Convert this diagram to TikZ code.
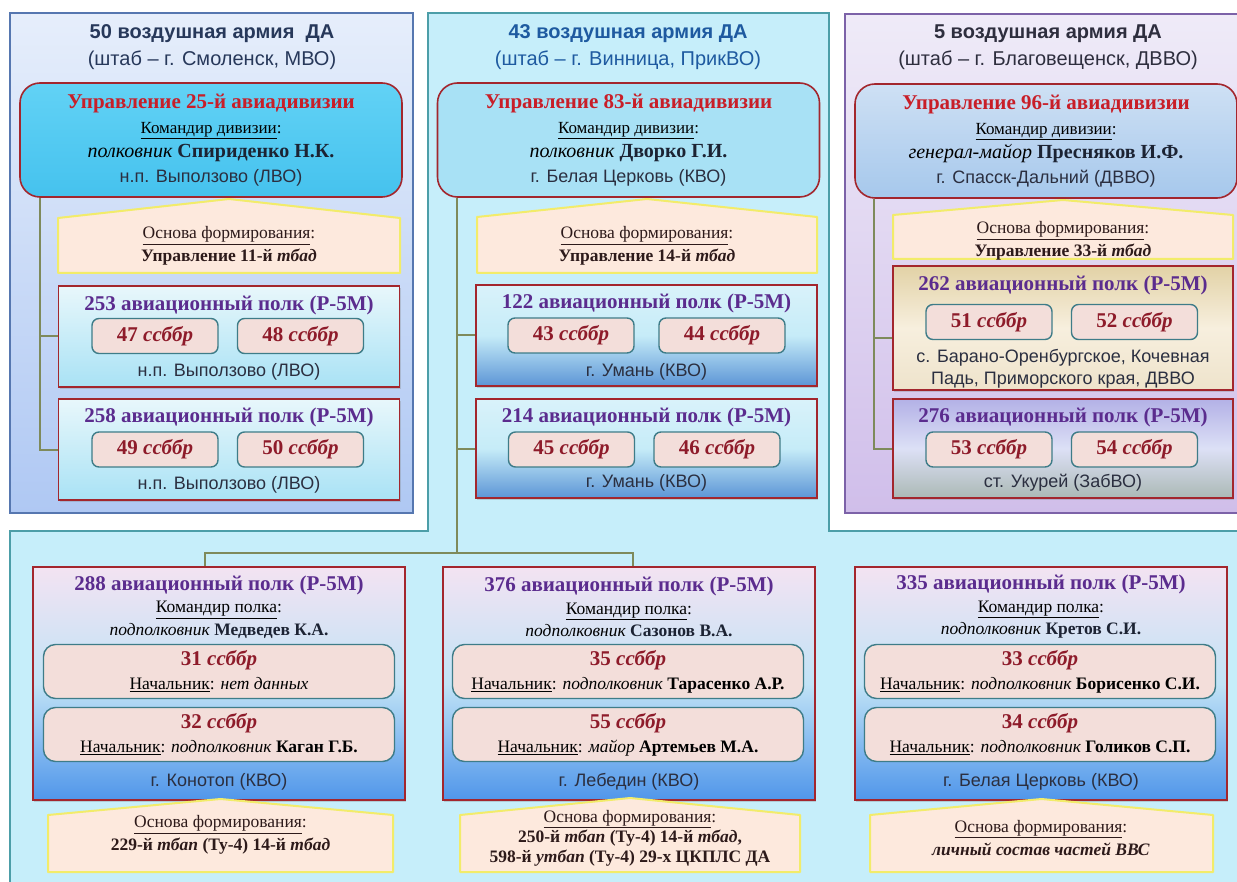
\documentclass[tikz,border=0pt]{standalone}
\usepackage{fontspec}
\setmainfont{Liberation Serif}
\newfontfamily\arialf{Liberation Sans}
\usetikzlibrary{shadows}

\definecolor{redline}{HTML}{A3262D}
\definecolor{headred}{HTML}{C81E28}
\definecolor{regpurple}{HTML}{5B2C8E}
\definecolor{ssbred}{HTML}{8E1B2A}
\definecolor{ssbfill}{HTML}{F3DEDA}
\definecolor{ssbline}{HTML}{3E7C88}
\definecolor{linkolive}{HTML}{7E8A5B}
\definecolor{basfill}{HTML}{FDE9DD}
\definecolor{basline}{HTML}{F2EC6A}
\definecolor{bastext}{HTML}{2D1A1A}
\definecolor{cyanbg}{HTML}{C6EEFA}
\definecolor{tealline}{HTML}{4C9EA8}
\definecolor{blueline}{HTML}{5677B0}
\definecolor{violetline}{HTML}{7C62A8}
\definecolor{army50top}{HTML}{E6EEFB}
\definecolor{army50bot}{HTML}{AFC8F3}
\definecolor{army5top}{HTML}{EFEBF8}
\definecolor{army5bot}{HTML}{D0BEEA}
\definecolor{title50}{HTML}{27385A}
\definecolor{title43}{HTML}{1E5AA0}
\definecolor{title5}{HTML}{2E2E3E}
\definecolor{namecol}{HTML}{1C2333}
\definecolor{placecol}{HTML}{2B2F40}
\definecolor{div25top}{HTML}{62D2F5}
\definecolor{div25bot}{HTML}{45C2EE}
\definecolor{div83fill}{HTML}{A8E1F5}
\definecolor{div96top}{HTML}{CEE0F4}
\definecolor{div96bot}{HTML}{A6C8EC}
\definecolor{cyantop}{HTML}{E8F7FB}
\definecolor{cyanbot}{HTML}{A9E2F5}
\definecolor{bluetop}{HTML}{D9F2FA}
\definecolor{bluemid}{HTML}{C6ECF8}
\definecolor{bluebot}{HTML}{5C95D6}
\definecolor{tantop}{HTML}{E2D2A6}
\definecolor{tanmid}{HTML}{F7EFDE}
\definecolor{tanbot}{HTML}{EEE3CB}
\definecolor{lilactop}{HTML}{B3B1E6}
\definecolor{lilacmid}{HTML}{DCE0F6}
\definecolor{lilacbot}{HTML}{ABB9B5}
\definecolor{pinktop}{HTML}{F3E3F2}
\definecolor{pinkmid}{HTML}{C1E3F6}
\definecolor{pinkbot}{HTML}{5096EA}

\newcommand{\divhead}[1]{{\color{headred}\bfseries\fontsize{21}{24.5}\selectfont #1}}
\newcommand{\nameline}[2]{{\fontsize{20}{24.5}\selectfont\textit{#1} {\bfseries\color{namecol}#2}}}
\newcommand{\placetext}[1]{{\arialf\fontsize{18}{24.5}\selectfont\color{placecol}#1}}
\newcommand{\ssbhead}[2]{{\color{ssbred}\bfseries\fontsize{21}{24}\selectfont #1 \textit{#2}}}
\newcommand{\basisshape}[5]{\draw[basis] (#1,#5) -- (#1,#4) -- ({(#1+#2)/2},#3) -- (#2,#4) -- (#2,#5) -- cycle;}

\tikzset{
  army/.style={align=center, inner sep=0pt, font=\arialf\fontsize{20}{27}\selectfont},
  divbox/.style={draw=redline, line width=1.6pt, rounded corners=20pt, minimum width=382pt,
    minimum height=114pt, inner sep=0pt, align=center, font=\fontsize{17}{24.5}\selectfont},
  basis/.style={draw=basline, fill=basfill, line width=2pt, line join=round},
  bastext/.style={align=center, inner sep=0pt, text=bastext, font=\fontsize{17.5}{23}\selectfont},
  polk/.style={draw=redline, line width=1.6pt, minimum width=341pt, minimum height=101pt,
    inner sep=0pt, drop shadow={opacity=0.3, shadow xshift=1pt, shadow yshift=-2pt}},
  cyanpolk/.style={top color=cyantop, bottom color=cyanbot},
  bluepolk/.style={top color=bluetop, bottom color=bluebot, middle color=bluemid},
  tanpolk/.style={top color=tantop, bottom color=tanbot, middle color=tanmid},
  lilacpolk/.style={top color=lilactop, bottom color=lilacbot, middle color=lilacmid},
  pinkpolk/.style={top color=pinktop, bottom color=pinkbot, middle color=pinkmid},
  polktitle/.style={inner sep=0pt, text=regpurple, font=\bfseries\fontsize{21}{24}\selectfont},
  polkhead/.style={align=center, inner sep=0pt, font=\fontsize{17.5}{22.5}\selectfont},
  ssb/.style={draw=ssbline, fill=ssbfill, line width=1.4pt, rounded corners=7pt, minimum width=126pt,
    minimum height=35pt, inner sep=0pt, text=ssbred, font=\bfseries\fontsize{21}{24}\selectfont},
  chief/.style={draw=ssbline, fill=ssbfill, line width=1.4pt, rounded corners=12pt, minimum width=351pt,
    minimum height=54pt, inner sep=0pt, align=center, font=\fontsize{17.5}{24}\selectfont},
  place/.style={inner sep=0pt, align=center, text=placecol, font=\arialf\fontsize{18}{22}\selectfont},
  link/.style={draw=linkolive, line width=2pt}
}

\begin{document}
\begin{tikzpicture}[x=1pt,y=-1pt]
  \useasboundingbox (0,0) rectangle (1237,882);
  \clip (0,0) rectangle (1237,882);
  % armies
  \path[draw=tealline, line width=1.5pt, fill=cyanbg] (428,13) -- (829,13) -- (829,531) -- (1250,531)
    -- (1250,900) -- (10,900) -- (10,531) -- (428,531) -- cycle;
  \path[draw=blueline, line width=1.5pt, top color=army50top, bottom color=army50bot] (10,13) rectangle (413,513);
  \path[draw=violetline, line width=1.5pt, top color=army5top, bottom color=army5bot] (845,14) rectangle (1250,513);
  \node[army, text=title50] (a50) at (212,47) {\textbf{50 воздушная армия\ \ ДА}\\(штаб – г. Смоленск, МВО)};
  \node[army, text=title43] (a43) at (628,47) {\textbf{43 воздушная армия ДА}\\(штаб – г. Винница, ПрикВО)};
  \node[army, text=title5] (a5) at (1048,47) {\textbf{5 воздушная армия ДА}\\(штаб – г. Благовещенск, ДВВО)};

  % divisions
  \node[divbox, top color=div25top, bottom color=div25bot] (div25) at (211,140)
    {\divhead{Управление 25-й авиадивизии}\\ \underline{Командир дивизии}:\\
     \nameline{полковник}{Спириденко Н.К.}\\ \placetext{н.п. Выползово (ЛВО)}};
  \node[divbox, fill=div83fill] (div83) at (628.5,140)
    {\divhead{Управление 83-й авиадивизии}\\ \underline{Командир дивизии}:\\
     \nameline{полковник}{Дворко Г.И.}\\ \placetext{г. Белая Церковь (КВО)}};
  \node[divbox, top color=div96top, bottom color=div96bot] (div96) at (1046,141)
    {\divhead{Управление 96-й авиадивизии}\\ \underline{Командир дивизии}:\\
     \nameline{генерал-майор}{Пресняков И.Ф.}\\ \placetext{г. Спасск-Дальний (ДВВО)}};

  % basis of the divisions
  \basisshape{58}{400}{199}{218}{273}
  \node[bastext] (bas11) at (229,246) {\underline{Основа формирования}:\\ \textbf{Управление 11-й \textit{тбад}}};
  \basisshape{477}{817}{199}{217}{273}
  \node[bastext] (bas14) at (647,246) {\underline{Основа формирования}:\\ \textbf{Управление 14-й \textit{тбад}}};
  \basisshape{893}{1233}{200}{215}{259}
  \node[bastext] (bas33) at (1063,241) {\underline{Основа формирования}:\\ \textbf{Управление 33-й \textit{тбад}}};

  % regiments of 25 ad
  \node[polk, cyanpolk] (p253) at (229,336.5) {};
  \node[polktitle] (p253t) at (229,305) {253 авиационный полк (Р-5М)};
  \node[ssb] (b47) at (155,336) {47 \textit{ссббр}};
  \node[ssb] (b48) at (300.5,336) {48 \textit{ссббр}};
  \node[place] (p253l) at (229,372) {н.п. Выползово (ЛВО)};
  \node[polk, cyanpolk] (p258) at (229,449.5) {};
  \node[polktitle] (p258t) at (229,417) {258 авиационный полк (Р-5М)};
  \node[ssb] (b49) at (155,449.5) {49 \textit{ссббр}};
  \node[ssb] (b50) at (300.5,449.5) {50 \textit{ссббр}};
  \node[place] (p258l) at (229,485) {н.п. Выползово (ЛВО)};

  % regiments of 83 ad
  \node[polk, bluepolk] (p122) at (646.5,335.5) {};
  \node[polktitle] (p122t) at (646.5,303) {122 авиационный полк (Р-5М)};
  \node[ssb] (b43) at (571,335.5) {43 \textit{ссббр}};
  \node[ssb] (b44) at (722,335.5) {44 \textit{ссббр}};
  \node[place] (p122l) at (646.5,372) {г. Умань (КВО)};
  \node[polk, bluepolk, minimum height=99pt] (p214) at (646.5,448.5) {};
  \node[polktitle] (p214t) at (646.5,417) {214 авиационный полк (Р-5М)};
  \node[ssb] (b45) at (571.5,449.5) {45 \textit{ссббр}};
  \node[ssb] (b46) at (717,449.5) {46 \textit{ссббр}};
  \node[place] (p214l) at (646.5,483) {г. Умань (КВО)};

  % regiments of 96 ad
  \node[polk, tanpolk, minimum width=340pt, minimum height=124pt] (p262) at (1063,328) {};
  \node[polktitle] (p262t) at (1063,285) {262 авиационный полк (Р-5М)};
  \node[ssb] (b51) at (989,322) {51 \textit{ссббр}};
  \node[ssb] (b52) at (1134.5,322) {52 \textit{ссббр}};
  \node[place] (p262l) at (1063,369) {с. Барано-Оренбургское, Кочевная\\Падь, Приморского края, ДВВО};
  \node[polk, lilacpolk, minimum width=340pt, minimum height=99pt] (p276) at (1063,448.5) {};
  \node[polktitle] (p276t) at (1063,417) {276 авиационный полк (Р-5М)};
  \node[ssb] (b53) at (989,449.5) {53 \textit{ссббр}};
  \node[ssb] (b54) at (1134.5,449.5) {54 \textit{ссббр}};
  \node[place] (p276l) at (1063,483) {ст. Укурей (ЗабВО)};

  % separate regiments
  \node[polk, pinkpolk, minimum width=372pt, minimum height=233pt] (p288) at (219,683.5) {};
  \node[polkhead] (p288t) at (219,607) {{\color{regpurple}\bfseries\fontsize{21}{22.5}\selectfont 288 авиационный полк (Р-5М)}\\
    \underline{Командир полка}:\\ \textit{подполковник} {\bfseries\color{namecol}Медведев К.А.}};
  \node[chief] (s31) at (219,671.5) {\ssbhead{31}{ссббр}\\ \underline{Начальник}: \textit{нет данных}};
  \node[chief] (s32) at (219,734.5) {\ssbhead{32}{ссббр}\\ \underline{Начальник}: \textit{подполковник} \textbf{Каган Г.Б.}};
  \node[place] (p288l) at (219,782) {г. Конотоп (КВО)};
  \basisshape{48}{393}{799}{815}{872}
  \node[bastext] (bas229) at (220.5,835) {\underline{Основа формирования}:\\
    \textbf{229-й \textit{тбап} (Ту-4) 14-й \textit{тбад}}};

  \node[polk, pinkpolk, minimum width=372pt, minimum height=233pt] (p376) at (629,683.5) {};
  \node[polkhead] (p376t) at (629,607) {{\color{regpurple}\bfseries\fontsize{21}{22.5}\selectfont 376 авиационный полк (Р-5М)}\\
    \underline{Командир полка}:\\ \textit{подполковник} {\bfseries\color{namecol}Сазонов В.А.}};
  \node[chief] (s35) at (628,671.5) {\ssbhead{35}{ссббр}\\ \underline{Начальник}: \textit{подполковник} \textbf{Тарасенко А.Р.}};
  \node[chief] (s55) at (628,734.5) {\ssbhead{55}{ссббр}\\ \underline{Начальник}: \textit{майор} \textbf{Артемьев М.А.}};
  \node[place] (p376l) at (629,782) {г. Лебедин (КВО)};
  \basisshape{460}{800}{798}{815}{872}
  \node[bastext, font=\fontsize{17.5}{20}\selectfont] (bas250) at (630,838) {\underline{Основа формирования}:\\
    \textbf{250-й \textit{тбап} (Ту-4) 14-й \textit{тбад},}\\ \textbf{598-й \textit{утбап} (Ту-4) 29-х ЦКПЛС ДА}};

  \node[polk, pinkpolk, minimum width=372pt, minimum height=233pt] (p335) at (1041,683.5) {};
  \node[polkhead] (p335t) at (1041,607) {{\color{regpurple}\bfseries\fontsize{21}{22.5}\selectfont 335 авиационный полк (Р-5М)}\\
    \underline{Командир полка}:\\ \textit{подполковник} {\bfseries\color{namecol}Кретов С.И.}};
  \node[chief] (s33) at (1040,671.5) {\ssbhead{33}{ссббр}\\ \underline{Начальник}: \textit{подполковник} \textbf{Борисенко С.И.}};
  \node[chief] (s34) at (1040,734.5) {\ssbhead{34}{ссббр}\\ \underline{Начальник}: \textit{подполковник} \textbf{Голиков С.П.}};
  \node[place] (p335l) at (1041,782) {г. Белая Церковь (КВО)};
  \basisshape{870}{1213}{799}{815}{872}
  \node[bastext] (basvvs) at (1041,838) {\underline{Основа формирования}:\\ \textbf{\textit{личный состав частей ВВС}}};

  % links
  \draw[link] ([xshift=21pt]div25.south west) |- (p253.west);
  \draw[link] ([xshift=21pt]div25.south west) |- (p258.west);
  \coordinate (trunk) at ([xshift=20pt]div83.south west);
  \coordinate (fork) at (trunk |- 0,553);
  \draw[link] (trunk) |- (p122.west);
  \draw[link] (trunk) |- (p214.west);
  \draw[link] (trunk) -- (fork) -| ([xshift=-14pt]p288.north);
  \draw[link] (fork) -| ([xshift=4pt]p376.north);
  \draw[link] ([xshift=20pt]div96.south west) |- ([yshift=-10pt]p262.west);
  \draw[link] ([xshift=20pt]div96.south west) |- (p276.west);
\end{tikzpicture}
\end{document}
